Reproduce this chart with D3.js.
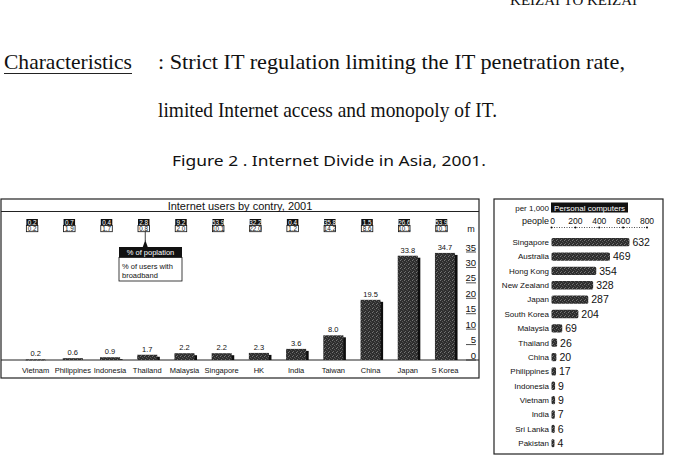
<!DOCTYPE html>
<html>
<head>
<meta charset="utf-8">
<script src="https://cdn.jsdelivr.net/npm/d3@7"></script>
<style>
  body { margin: 0; background: #fff; }
  svg { display: block; }
  text { font-family: "Liberation Sans", Arial, sans-serif; fill: #111; }
  .serif { font-family: "Liberation Serif", "DejaVu Serif", serif; }
</style>
</head>
<body>
<svg id="fig" width="679" height="476"></svg>
<script>
// Internet users by country, 2001 (millions)
const countries = ['Vietnam', 'Philippines', 'Indonesia', 'Thailand', 'Malaysia', 'Singapore',
                   'HK', 'India', 'Taiwan', 'China', 'Japan', 'S Korea'];
const users = [0.2, 0.6, 0.9, 1.7, 2.2, 2.2, 2.3, 3.6, 8.0, 19.5, 33.8, 34.7];
// % of population (black box) and % of users with broadband (white box)
const pctPopulation = [0.2, 0.7, 0.4, 2.8, 9.2, 53.9, 32.2, 0.4, 35.8, 1.5, 26.6, 53.9];
const pctBroadband = [0.2, 1.9, 1.7, 0.8, 2.0, 10.1, 22.0, 1.2, 14.2, 8.6, 10.1, 10.1];
const userTicks = [0, 5, 10, 15, 20, 25, 30, 35];

// Personal computers per 1,000 people
const pcCountries = ['Singapore', 'Australia', 'Hong Kong', 'New Zealand', 'Japan', 'South Korea',
                     'Malaysia', 'Thailand', 'China', 'Philippines', 'Indonesia', 'Vietnam',
                     'India', 'Sri Lanka', 'Pakistan'];
const pcValues = [632, 469, 354, 328, 287, 204, 69, 26, 20, 17, 9, 9, 7, 6, 4];
const pcTicks = [0, 200, 400, 600, 800];

const svg = d3.select('#fig');

// stipple texture for the bars (dark with a few light specks)
const defs = svg.append('defs');
const pat = defs.append('pattern')
    .attr('id', 'stipple')
    .attr('width', 4).attr('height', 4)
    .attr('patternUnits', 'userSpaceOnUse');
pat.append('rect').attr('width', 4).attr('height', 4).attr('fill', '#2e2e2e');
pat.append('rect').attr('x', 0).attr('y', 0).attr('width', 1).attr('height', 1).attr('fill', '#777');
pat.append('rect').attr('x', 2).attr('y', 1).attr('width', 1).attr('height', 1).attr('fill', '#5a5a5a');
pat.append('rect').attr('x', 1).attr('y', 3).attr('width', 1).attr('height', 1).attr('fill', '#6a6a6a');
pat.append('rect').attr('x', 3).attr('y', 2).attr('width', 1).attr('height', 1).attr('fill', '#4a4a4a');

// ---- page text ----
svg.append('text').attr('class', 'serif')
    .attr('x', 637).attr('y', 5).attr('text-anchor', 'end')
    .style('font-size', '15px')
    .text('KEIZAI TO KEIZAI');

svg.append('text').attr('class', 'serif')
    .attr('x', 4).attr('y', 69)
    .attr('textLength', 128).attr('lengthAdjust', 'spacingAndGlyphs')
    .style('font-size', '21px')
    .text('Characteristics');
svg.append('line')
    .attr('x1', 4).attr('x2', 132).attr('y1', 73.5).attr('y2', 73.5)
    .attr('stroke', '#222').attr('stroke-width', 1);

svg.append('text').attr('class', 'serif')
    .attr('x', 158).attr('y', 69)
    .attr('textLength', 467).attr('lengthAdjust', 'spacingAndGlyphs')
    .style('font-size', '21px')
    .text(': Strict IT regulation limiting the IT penetration rate,');
svg.append('text').attr('class', 'serif')
    .attr('x', 158).attr('y', 117)
    .attr('textLength', 339).attr('lengthAdjust', 'spacingAndGlyphs')
    .style('font-size', '21px')
    .text('limited Internet access and monopoly of IT.');

svg.append('text')
    .attr('x', 172).attr('y', 166)
    .attr('textLength', 314).attr('lengthAdjust', 'spacingAndGlyphs')
    .style('font-size', '14px')
    .style('font-family', '"Noto Sans", "Liberation Sans", sans-serif')
    .text('Figure 2 .  Internet Divide in Asia,  2001.');

// ---- left chart: Internet users ----
const L = { left: 1, right: 479, top: 199, titleBottom: 211.5, base: 360, bottom: 378 };

const gL = svg.append('g');
gL.append('rect')
    .attr('x', L.left).attr('y', L.top)
    .attr('width', L.right - L.left).attr('height', L.bottom - L.top)
    .attr('fill', 'none').attr('stroke', '#222').attr('stroke-width', 1.2);
gL.append('line')
    .attr('x1', L.left).attr('x2', L.right).attr('y1', L.titleBottom).attr('y2', L.titleBottom)
    .attr('stroke', '#222').attr('stroke-width', 1);
gL.append('text')
    .attr('x', (L.left + L.right) / 2).attr('y', 209.5)
    .attr('text-anchor', 'middle')
    .style('font-size', '11px')
    .text('Internet users by contry, 2001');

const x = d3.scaleBand()
    .domain(countries)
    .range([17, 463.6])
    .paddingInner(0.46)
    .paddingOuter(0.23);

const y = d3.scaleLinear()
    .domain([0, 35])
    .range([L.base, 252]);

// baseline
gL.append('line')
    .attr('x1', L.left).attr('x2', L.right).attr('y1', L.base).attr('y2', L.base)
    .attr('stroke', '#222').attr('stroke-width', 1);

// bars with offset shadow
const bars = gL.selectAll('.bar').data(countries).enter().append('g').attr('class', 'bar');
bars.append('rect')
    .attr('x', d => x(d) + 2.5)
    .attr('y', (d, i) => y(users[i]) + 2)
    .attr('width', x.bandwidth())
    .attr('height', (d, i) => Math.max(L.base - y(users[i]) - 2, 0))
    .attr('fill', '#0e0e0e');
bars.append('rect')
    .attr('x', d => x(d))
    .attr('y', (d, i) => y(users[i]))
    .attr('width', x.bandwidth())
    .attr('height', (d, i) => Math.max(L.base - y(users[i]), 1))
    .attr('fill', 'url(#stipple)');
bars.append('text')
    .attr('x', d => x(d) + x.bandwidth() / 2)
    .attr('y', (d, i) => y(users[i]) - 3)
    .attr('text-anchor', 'middle')
    .style('font-size', '7.5px')
    .text((d, i) => users[i].toFixed(1));

// country labels
gL.selectAll('.cname').data(countries).enter().append('text')
    .attr('x', d => x(d) + x.bandwidth() / 2)
    .attr('y', 372.5)
    .attr('text-anchor', 'middle')
    .style('font-size', '7.5px')
    .text(d => d);

// right-hand axis, labels sitting on their tick lines
const yAxis = gL.append('g');
userTicks.forEach(t => {
    yAxis.append('line')
        .attr('x1', 466).attr('x2', 476).attr('y1', y(t)).attr('y2', y(t))
        .attr('stroke', '#222').attr('stroke-width', 0.8);
    yAxis.append('text')
        .attr('x', 476).attr('y', y(t) - 1.5)
        .attr('text-anchor', 'end')
        .style('font-size', '9.5px')
        .text(t);
});
gL.append('text')
    .attr('x', 471).attr('y', 232)
    .attr('text-anchor', 'middle')
    .style('font-size', '9px')
    .text('m');

// small label boxes
const boxW = 11.5;
const boxes = gL.selectAll('.box').data(countries).enter().append('g').attr('class', 'box')
    .attr('transform', d => `translate(${x(d) + x.bandwidth() / 2 - 3.5 - boxW / 2}, 219)`);
boxes.append('rect')
    .attr('width', boxW).attr('height', 6.5)
    .attr('fill', '#111');
boxes.append('text')
    .attr('x', boxW / 2).attr('y', 5.6)
    .attr('text-anchor', 'middle')
    .style('font-size', '6.3px').style('fill', '#fff')
    .text((d, i) => pctPopulation[i].toFixed(1));
boxes.append('rect')
    .attr('y', 6.5).attr('width', boxW).attr('height', 6.2)
    .attr('fill', '#fff').attr('stroke', '#111').attr('stroke-width', 0.8);
boxes.append('text')
    .attr('x', boxW / 2).attr('y', 11.8)
    .attr('text-anchor', 'middle')
    .style('font-size', '6.3px')
    .text((d, i) => pctBroadband[i].toFixed(1));

// legend callout pointing at the Thailand box
const cx = x('Thailand') + x.bandwidth() / 2 - 2;
const callout = gL.append('g');
callout.append('line')
    .attr('x1', cx).attr('x2', cx).attr('y1', 231.5).attr('y2', 241)
    .attr('stroke', '#111').attr('stroke-width', 0.8);
callout.append('path')
    .attr('d', `M${cx - 2.5},247 L${cx},240 L${cx + 2.5},247 Z`)
    .attr('fill', '#111');
callout.append('rect')
    .attr('x', 119).attr('y', 247).attr('width', 63).attr('height', 10.5)
    .attr('fill', '#111');
callout.append('text')
    .attr('x', 150.5).attr('y', 255)
    .attr('text-anchor', 'middle')
    .style('font-size', '7.5px').style('fill', '#fff')
    .text('% of poplation');
callout.append('rect')
    .attr('x', 119).attr('y', 257.5).attr('width', 63).attr('height', 23.5)
    .attr('fill', '#fff').attr('stroke', '#111').attr('stroke-width', 0.8);
callout.append('text')
    .attr('x', 122).attr('y', 268.5)
    .style('font-size', '7.5px')
    .text('% of users with');
callout.append('text')
    .attr('x', 122).attr('y', 277.5)
    .style('font-size', '7.5px')
    .text('broadband');

// ---- right chart: personal computers ----
const gR = svg.append('g');
gR.append('rect')
    .attr('x', 494).attr('y', 199).attr('width', 169).attr('height', 255)
    .attr('fill', 'none').attr('stroke', '#222').attr('stroke-width', 1.2);

const px = d3.scaleLinear().domain([0, 800]).range([551.5, 647]);
const py = d3.scaleBand()
    .domain(pcCountries)
    .range([232, 453.4])
    .padding(0.42);

gR.append('text')
    .attr('x', 549).attr('y', 210.5)
    .attr('text-anchor', 'end')
    .style('font-size', '8px')
    .text('per 1,000');
gR.append('text')
    .attr('x', 549).attr('y', 224)
    .attr('text-anchor', 'end')
    .style('font-size', '9px')
    .text('people');
gR.append('rect')
    .attr('x', 551).attr('y', 202.5).attr('width', 77).attr('height', 10)
    .attr('fill', '#111');
gR.append('text')
    .attr('x', 589.5).attr('y', 210.5)
    .attr('text-anchor', 'middle')
    .style('font-size', '8px').style('fill', '#fff')
    .text('Personal computers');

// dotted top axis
gR.append('line')
    .attr('x1', px(0)).attr('x2', px(800)).attr('y1', 227.5).attr('y2', 227.5)
    .attr('stroke', '#222').attr('stroke-width', 0.8).attr('stroke-dasharray', '1,1.5');
gR.selectAll('.pctick').data(pcTicks).enter().append('circle')
    .attr('cx', d => px(d)).attr('cy', 227.5).attr('r', 1)
    .attr('fill', '#111');
gR.selectAll('.pclab').data(pcTicks).enter().append('text')
    .attr('x', d => px(d) + (d === 0 ? 1 : 0)).attr('y', 224)
    .attr('text-anchor', 'middle')
    .style('font-size', '8.5px')
    .text(d => d);

const rows = gR.selectAll('.row').data(pcCountries).enter().append('g').attr('class', 'row');
rows.append('rect')
    .attr('x', px(0))
    .attr('y', d => py(d))
    .attr('width', (d, i) => px(pcValues[i]) - px(0) + 2.5)
    .attr('height', py.bandwidth())
    .attr('rx', 1.5)
    .attr('fill', 'url(#stipple)');
rows.append('text')
    .attr('x', 549)
    .attr('y', d => py(d) + py.bandwidth() / 2 + 2.8)
    .attr('text-anchor', 'end')
    .style('font-size', '8px')
    .text(d => d);
rows.append('text')
    .attr('x', (d, i) => px(pcValues[i]) + 5.5)
    .attr('y', d => py(d) + py.bandwidth() / 2 + 3.8)
    .style('font-size', '10.5px')
    .text((d, i) => pcValues[i]);
</script>
</body>
</html>
